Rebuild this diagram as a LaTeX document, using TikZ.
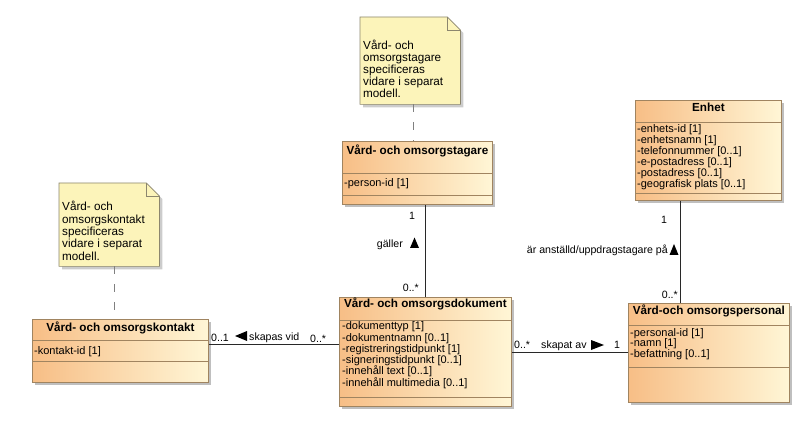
\documentclass[tikz,border=0pt]{standalone}
\usepackage{fontspec}
\setmainfont{Liberation Sans}
\usetikzlibrary{shadows,calc}
\definecolor{clsL}{RGB}{247,190,134}
\definecolor{clsR}{RGB}{255,246,214}
\definecolor{clsBorder}{RGB}{160,132,96}
\definecolor{noteFill}{RGB}{252,244,186}
\definecolor{noteBorder}{RGB}{140,134,110}
\definecolor{lineCol}{RGB}{40,40,40}
\begin{document}
\begin{tikzpicture}[x=1pt,y=-1pt,
  cls/.style={draw=clsBorder, line width=0.8pt, left color=clsL, right color=clsR, anchor=north west, inner sep=0pt,
    drop shadow={shadow xshift=3pt,shadow yshift=-3pt,fill=black,opacity=0.25}},
  sepline/.style={draw=clsBorder, line width=0.8pt},
  ttl/.style={font=\fontsize{11.7}{14}\selectfont\bfseries, inner sep=0pt, anchor=base},
  attr/.style={font=\fontsize{11}{13}\selectfont, inner sep=0pt, anchor=base west},
  lbl/.style={font=\fontsize{10.6}{13}\selectfont, inner sep=0pt},
  assoc/.style={draw=lineCol, line width=0.8pt},
  tri/.style={fill=black},
  noteframe/.style={inner sep=0pt, anchor=north west},
  notebg/.style={fill=noteFill, draw=noteBorder, line width=0.7pt,
    drop shadow={shadow xshift=3pt,shadow yshift=-3pt,fill=black,opacity=0.2}},
  notefold/.style={draw=noteBorder, line width=0.7pt},
  notetxt/.style={font=\fontsize{11.7}{13}\selectfont, inner sep=0pt, anchor=base west},
  anchorline/.style={draw=gray, line width=0.8pt, dash pattern=on 8pt off 10pt}]
\useasboundingbox[fill=white] (0,0) rectangle (797,443);

% ---------- notes ----------
\node[noteframe, minimum width=100pt, minimum height=87pt] (n1) at (360,17) {};
\filldraw[notebg] (n1.north west) -- ($(n1.north east)+(-13,0)$) -- ($(n1.north east)+(0,13)$) -- (n1.south east) -- (n1.south west) -- cycle;
\draw[notefold] ($(n1.north east)+(-13,0)$) -- ($(n1.north east)+(-13,13)$) -- ($(n1.north east)+(0,13)$);
\foreach \t [count=\i] in {Vård- och, omsorgstagare, specificeras, vidare i separat, modell.}
  \node[notetxt] (n1-\i) at (363,{50+11.8*(\i-1)}) {\t};

\node[noteframe, minimum width=100pt, minimum height=83pt] (n2) at (59,183) {};
\filldraw[notebg] (n2.north west) -- ($(n2.north east)+(-13,0)$) -- ($(n2.north east)+(0,13)$) -- (n2.south east) -- (n2.south west) -- cycle;
\draw[notefold] ($(n2.north east)+(-13,0)$) -- ($(n2.north east)+(-13,13)$) -- ($(n2.north east)+(0,13)$);
\foreach \t [count=\i] in {Vård- och, omsorgskontakt, specificeras, vidare i separat, modell.}
  \node[notetxt] (n2-\i) at (62,{211+12.3*(\i-1)}) {\t};

% ---------- classes ----------
% Vård- och omsorgstagare
\node[cls, minimum width=150pt, minimum height=63pt] (stag) at (342,141) {};
\draw[sepline] ($(stag.north west)+(0,32)$) -- ($(stag.north east)+(0,32)$);
\draw[sepline] ($(stag.north west)+(0,54)$) -- ($(stag.north east)+(0,54)$);
\node[ttl] (stag-t) at ($(stag.north)+(0,14)$) {Vård- och omsorgstagare};
\node[attr] (stag-a1) at (344,187) {-person-id [1]};

% Vård- och omsorgsdokument
\node[cls, minimum width=172pt, minimum height=109pt] (dok) at (339,297) {};
\draw[sepline] ($(dok.north west)+(0,23)$) -- ($(dok.north east)+(0,23)$);
\draw[sepline] ($(dok.north west)+(0,100)$) -- ($(dok.north east)+(0,100)$);
\node[ttl] (dok-t) at ($(dok.north)+(0,11)$) {Vård- och omsorgsdokument};
\foreach \t [count=\i] in {-dokumenttyp [1], -dokumentnamn [0..1], -registreringstidpunkt [1], -signeringstidpunkt [0..1], -innehåll text [0..1], -innehåll multimedia [0..1]}
  \node[attr] (dok-a\i) at (342,{330+11.2*(\i-1)}) {\t};

% Enhet
\node[cls, minimum width=146pt, minimum height=100pt] (enh) at (635,100) {};
\draw[sepline] ($(enh.north west)+(0,22)$) -- ($(enh.north east)+(0,22)$);
\draw[sepline] ($(enh.north west)+(0,93)$) -- ($(enh.north east)+(0,93)$);
\node[ttl] (enh-t) at ($(enh.north)+(0,12)$) {Enhet};
\foreach \t [count=\i] in {-enhets-id [1], -enhetsnamn [1], -telefonnummer [0..1], -e-postadress [0..1], -postadress [0..1], -geografisk plats [0..1]}
  \node[attr] (enh-a\i) at (637,{133+10.9*(\i-1)}) {\t};

% Vård-och omsorgspersonal
\node[cls, minimum width=161pt, minimum height=99pt] (pers) at (628,303) {};
\draw[sepline] ($(pers.north west)+(0,22)$) -- ($(pers.north east)+(0,22)$);
\draw[sepline] ($(pers.north west)+(0,64)$) -- ($(pers.north east)+(0,64)$);
\node[ttl] (pers-t) at ($(pers.north)+(0,12)$) {Vård-och omsorgspersonal};
\foreach \t [count=\i] in {-personal-id [1], -namn [1], -befattning [0..1]}
  \node[attr] (pers-a\i) at (630,{336+10.7*(\i-1)}) {\t};

% Vård- och omsorgskontakt
\node[cls, minimum width=176pt, minimum height=63pt] (kon) at (32,319) {};
\draw[sepline] ($(kon.north west)+(0,21)$) -- ($(kon.north east)+(0,21)$);
\draw[sepline] ($(kon.north west)+(0,42)$) -- ($(kon.north east)+(0,42)$);
\node[ttl] (kon-t) at ($(kon.north)+(0,12)$) {Vård- och omsorgskontakt};
\node[attr] (kon-a1) at (34,354) {-kontakt-id [1]};

% ---------- note anchors ----------
\coordinate (n1a) at ($(n1.south)+(3,0)$);
\coordinate (n2a) at ($(n2.south)+(5,0)$);
\draw[anchorline] (n1a) -- (n1a |- stag.north);
\draw[anchorline] (n2a) -- (n2a |- kon.north);

% ---------- associations ----------
% gäller
\draw[assoc] (dok.north) -- (dok.north |- stag.south);
\node[lbl, anchor=base] (g-1) at (412,220) {1};
\node[lbl, anchor=base east] (g-m) at (419,291) {0..*};
\node[lbl, anchor=base east] (g-l) at (403,248) {gäller};
\fill[tri] (410,248) -- (419,248) -- (414.5,237.5) -- cycle;

% är anställd/uppdragstagare på
\coordinate (ea) at ($(enh.south)+(-28,0)$);
\draw[assoc] (ea) -- (ea |- pers.north);
\node[lbl, anchor=base] (e-1) at (664,224) {1};
\node[lbl, anchor=base east] (e-m) at (678,299) {0..*};
\node[lbl, anchor=base east] (e-l) at (668,254) {är anställd/uppdragstagare på};
\fill[tri] (669.5,255) -- (678.5,255) -- (674,244) -- cycle;

% skapas vid
\coordinate (ka) at ($(kon.east)+(0,-6.5)$);
\draw[assoc] (ka) -- (ka -| dok.west);
\node[lbl, anchor=base west] (k-1) at (211,341) {0..1};
\fill[tri] (235,336) -- (247,331) -- (247,341) -- cycle;
\node[lbl, anchor=base west] (k-l) at (249,340) {skapas vid};
\node[lbl, anchor=base west] (k-m) at (310,342) {0..*};

% skapat av
\draw[assoc] (dok.east) -- (dok.east -| pers.west);
\node[lbl, anchor=base west] (p-m) at (514,348) {0..*};
\node[lbl, anchor=base west] (p-l) at (541,348) {skapat av};
\fill[tri] (591,340) -- (591,350) -- (604,345) -- cycle;
\node[lbl, anchor=base west] (p-1) at (614,348) {1};
\end{tikzpicture}
\end{document}
